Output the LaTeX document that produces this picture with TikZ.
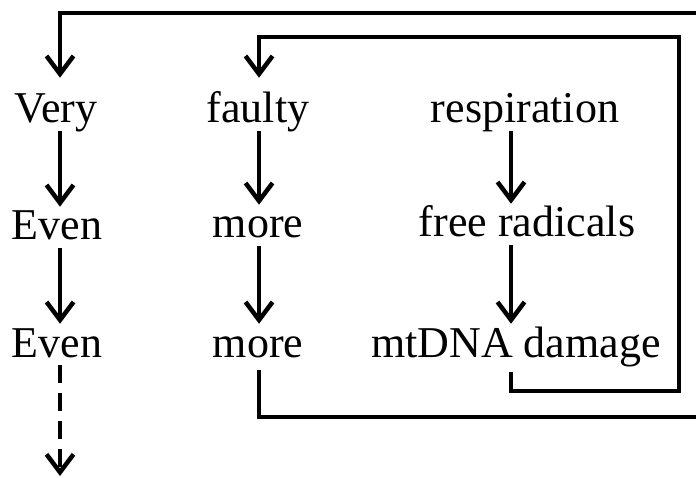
\documentclass[tikz,border=0pt]{standalone}
\usepackage{fontspec}
\setmainfont{Liberation Serif}
\usetikzlibrary{arrows.meta}

\begin{document}
\begin{tikzpicture}[x=1pt,y=-1pt,line width=4.5pt,
    >={Straight Barb[length=18pt,width=27pt]},
    word/.style={inner sep=0pt,anchor=base,text height=31pt,text depth=6pt,
      font=\fontsize{44}{50}\selectfont}]
            \useasboundingbox (0,0) rectangle (696,478);
            \clip (0,0) rectangle (696,478);
            % columns
            \coordinate (c1) at (60,0);
            \coordinate (c2) at (259,0);
            \coordinate (c3) at (511,0);
            % corners of the loops
            \coordinate (inBR) at (679,391);
            \coordinate (inTR) at (679,37);
            \coordinate (outBR) at (720,417);
            \coordinate (outTR) at (720,13);
            \coordinate (dashend) at (60,476);
            \node[word] (v1) at (56,123) {Very};
            \node[word] (v2) at (57,240) {Even};
            \node[word] (v3) at (57,357) {Even};
            \node[word] (f1) at (258,123) {faulty};
            \node[word] (f2) at (258,238) {more};
            \node[word] (f3) at (258,357) {more};
            \node[word] (r1) at (525,123) {respiration};
            \node[word] (r2) at (527,237) {free radicals};
            \node[word] (r3) at (516,357) {mtDNA damage};
            % loose ends of the loops
            \coordinate (v1top) at ([yshift=12pt]v1.north);
            \coordinate (f1top) at ([yshift=12pt]f1.north);
            \coordinate (f3bot) at ([yshift=-5pt]f3.south);
            \coordinate (r3bot) at ([yshift=-7pt]r3.south);
            \draw[->] (v1.south -| c1) -- (v2.north -| c1);
            \draw[->] (v2.south -| c1) -- (v3.north -| c1);
            \draw[->] (f1.south -| c2) -- (f2.north -| c2);
            \draw[->] (f2.south -| c2) -- (f3.north -| c2);
            \draw[->] (r1.south -| c3) -- (r2.north -| c3);
            \draw[->] (r2.south -| c3) -- (r3.north -| c3);
            \draw[->,dash pattern=on 18pt off 10pt] (v3.south -| c1) -- (dashend);
            \draw[->] (r3bot -| c3) |- (inBR) -- (inTR) -| (f1top -| c2);
            \draw[->] (f3bot -| c2) |- (outBR) -- (outTR) -| (v1top -| c1);
        \end{tikzpicture}
\end{document}
